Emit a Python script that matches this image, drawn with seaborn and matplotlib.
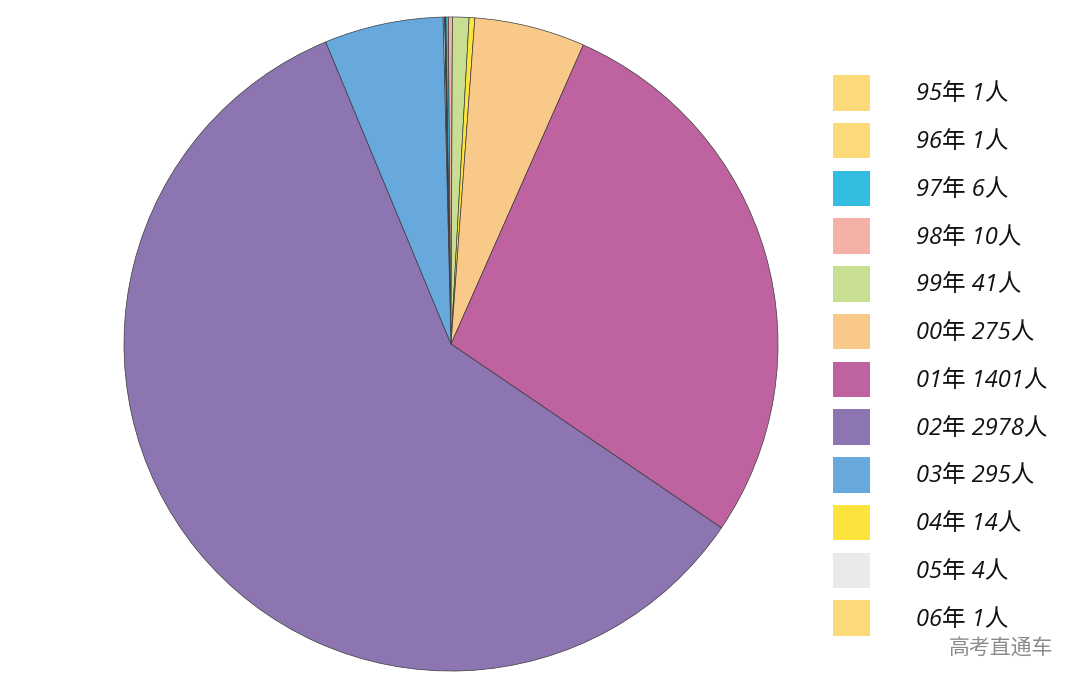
import matplotlib
matplotlib.use("Agg")
import matplotlib.pyplot as plt
import matplotlib.patches as mpatches
import seaborn as sns

sns.set_style("white")
plt.rcParams['font.family'] = ['Open Sans', 'Noto Sans CJK SC', 'DejaVu Sans']

# birth year groups and counts (legend order)
years = ['95年', '96年', '97年', '98年', '99年', '00年', '01年', '02年', '03年', '04年', '05年', '06年']
counts = [1, 1, 6, 10, 41, 275, 1401, 2978, 295, 14, 4, 1]
colors = ['#FDDA79', '#FDDA79', '#33BDE0', '#F4B2A6', '#C8DE92', '#F9C98A',
          '#BE63A0', '#8C75B0', '#67A9DD', '#FDE43D', '#EAEAEA', '#FDDA79']

# order of the wedges going clockwise from the top, as in the original image
pie_order = ['05年', '06年', '95年', '96年', '97年', '98年', '99年', '04年', '00年', '01年', '02年', '03年']
idx = [years.index(y) for y in pie_order]

fig = plt.figure(figsize=(10.8, 6.86), dpi=100)
ax = fig.add_axes([123 / 1080, 14 / 686, 656 / 1080, 656 / 686])
ax.pie([counts[i] for i in idx], colors=[colors[i] for i in idx],
       startangle=91.4, counterclock=False, radius=1,
       wedgeprops=dict(edgecolor='#3a3a3a', linewidth=0.5))
ax.set_xlim(-1.003, 1.003)
ax.set_ylim(-1.003, 1.003)
ax.set_aspect('equal')
ax.axis('off')

handles = [mpatches.Patch(facecolor=c, edgecolor='none') for c in colors]
labels = ['%s %d人' % (y, n) for y, n in zip(years, counts)]
fig.legend(handles, labels, loc='upper left', bbox_to_anchor=(833 / 1080, 1 - 75 / 686),
           frameon=False, borderpad=0, borderaxespad=0,
           prop=dict(family=['Open Sans', 'Noto Sans CJK SC'], style='italic', size=17, weight=500),
           labelcolor='#111111',
           handlelength=1.57, handleheight=1.95, handletextpad=1.95, labelspacing=0.51)

fig.text(0.975, 0.055, '高考直通车', ha='right', va='center', fontsize=15,
         color='#8a8a8a', family=['Noto Sans CJK SC'])

fig.savefig('out.png', dpi=100, facecolor='white')
